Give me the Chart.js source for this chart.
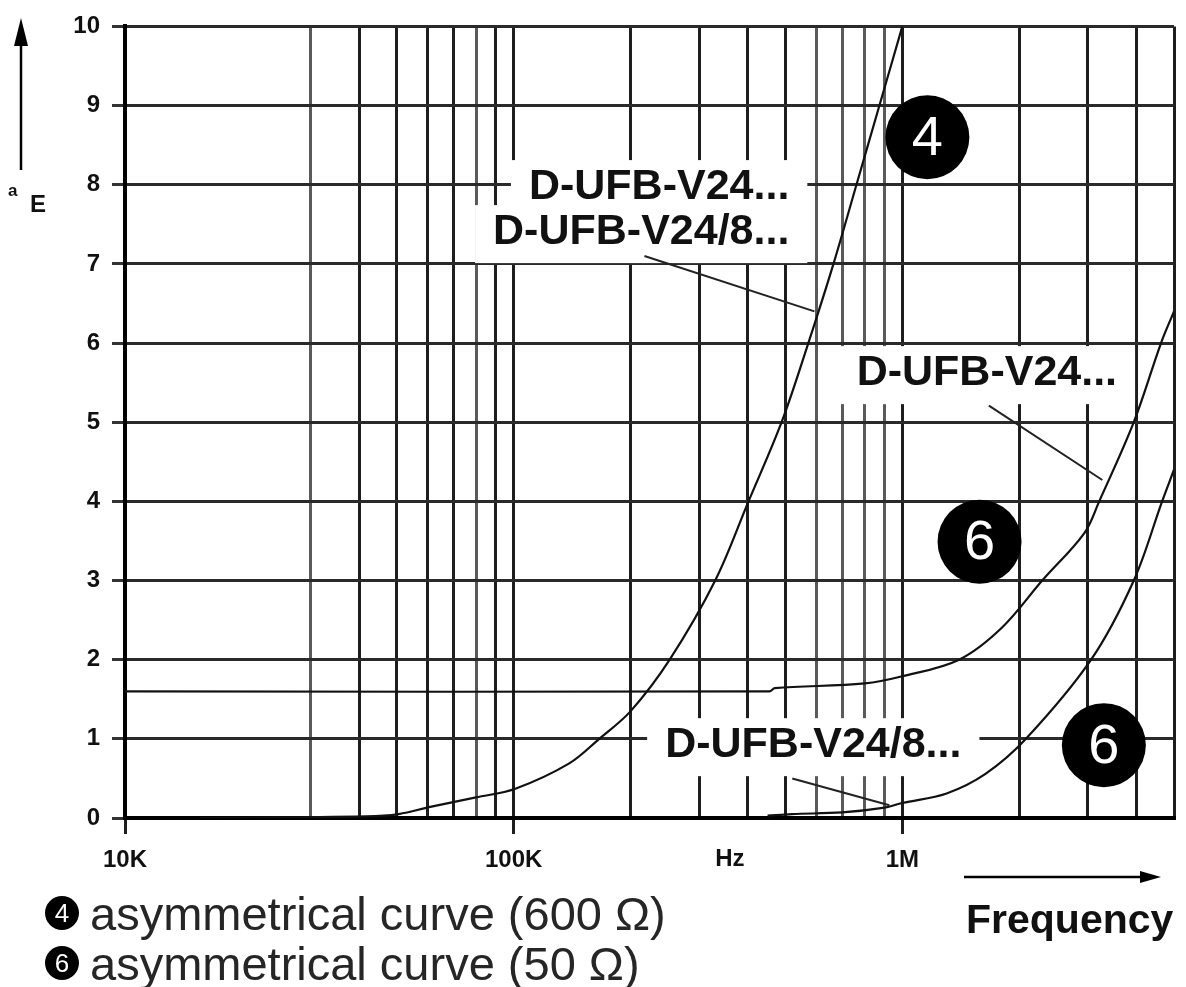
<!DOCTYPE html>
<html>
<head>
<meta charset="utf-8">
<script src="https://cdn.jsdelivr.net/npm/chart.js@4.4.1/dist/chart.umd.min.js"></script>
<style>
    body { margin: 0; background: #fff; }
    #wrap { position: relative; width: 1186px; height: 987px; font-family: "Liberation Sans", Arial, sans-serif; color: #111; }
    #chart { position: absolute; left: 0; top: 0; }
    .txt { position: absolute; white-space: nowrap; }
    .legend-row { position: absolute; left: 45px; height: 50px; display: flex; align-items: center; font-size: 47px; color: #262626; }
    .dot { width: 34px; height: 34px; border-radius: 50%; background: #000; color: #fff; font-size: 26px; display: flex; align-items: center; justify-content: center; margin-right: 11px; }
</style>
</head>
<body>
<div id="wrap">
    <canvas id="chart" width="1186" height="987"></canvas>
    <div class="txt" style="left:8px; top:181px; font-size:17px; font-weight:bold;">a</div>
    <div class="txt" style="left:30px; top:190px; font-size:24px; font-weight:bold;">E</div>
    <div class="txt" style="left:966px; top:897px; font-size:41px; font-weight:bold; line-height:44px;">Frequency</div>
    <div class="legend-row" style="top:888px;"><span class="dot">4</span>asymmetrical curve (600 Ω)</div>
    <div class="legend-row" style="top:938px;"><span class="dot">6</span>asymmetrical curve (50 Ω)</div>
</div>
<script>
//////////////////////////////////////
//              Data                //
//////////////////////////////////////

// curve 4 : D-UFB-V24... / D-UFB-V24/8... (600 Ohm)
const curve4Freq  = [15600, 41700, 50600, 61000, 80000, 101000, 139000, 166000, 200000, 252000, 330000, 402000, 489000, 573000, 665000, 762000, 873000, 1000000];
const curve4Value = [0, 0.02, 0.05, 0.14, 0.26, 0.37, 0.69, 1.0, 1.35, 2.0, 3.0, 4.0, 5.0, 6.0, 7.0, 8.0, 9.0, 10];

// curve 6 : D-UFB-V24... (50 Ohm)
const curve6aFreq  = [10000, 455000, 470000, 800000, 1000000, 1400000, 1800000, 2290000, 2940000, 3210000, 3940000, 4630000, 5000000];
const curve6aValue = [1.6, 1.6, 1.64, 1.7, 1.79, 2.0, 2.4, 3.0, 3.6, 4.0, 5.0, 6.0, 6.4];

// curve 6 : D-UFB-V24/8... (50 Ohm)
const curve6bFreq  = [450000, 520000, 700000, 900000, 1000000, 1300000, 1640000, 2080000, 3060000, 3940000, 4660000, 5000000];
const curve6bValue = [0.03, 0.05, 0.07, 0.13, 0.19, 0.31, 0.56, 1.0, 2.0, 3.0, 4.0, 4.4];

// x grid (no 20K line in the original)
const xGridValues = [10000, 30000, 40000, 50000, 60000, 70000, 80000, 90000,
                     100000, 200000, 300000, 400000, 500000, 600000, 700000, 800000, 900000,
                     1000000, 2000000, 3000000, 4000000, 5000000];
const xLabelValues = [10000, 100000, 1000000];
const xLabelTexts  = ['10K', '100K', '1M'];
const greyGridValues = [30000, 80000, 600000, 700000, 800000, 900000];

const hzFreq = 360000;

//////////////////////////////////////
//           Annotations            //
//////////////////////////////////////

const noteTexts = [
    { lines: ['D-UFB-V24...', 'D-UFB-V24/8...'], freq: 512000, value: 7.97, align: 'right' },
    { lines: ['D-UFB-V24...'], freq: 1650000, value: 5.62, align: 'center' },
    { lines: ['D-UFB-V24/8...'], freq: 590000, value: 0.92, align: 'center' }
];
const leaders = [
    [[217000, 7.1], [594000, 6.4]],
    [[1670000, 5.21], [3270000, 4.27]],
    [[521000, 0.5], [926000, 0.16]]
];
const badges = [
    { text: '4', freq: 1160000, value: 8.6 },
    { text: '6', freq: 1580000, value: 3.49 },
    { text: '6', freq: 3300000, value: 0.92 }
];

const FONT = '"Liberation Sans", Arial, sans-serif';

function toPoints(xs, ys) {
    return xs.map((f, i) => ({ x: f, y: ys[i] }));
}

const notesPlugin = {
    id: 'notes',
    beforeDatasetsDraw(chart) {
        const { ctx, scales: { x, y } } = chart;
        ctx.save();
        ctx.font = 'bold 43px ' + FONT;
        ctx.textBaseline = 'middle';
        noteTexts.forEach(n => {
            const px = x.getPixelForValue(n.freq);
            const py = y.getPixelForValue(n.value);
            // white halo behind the text
            n.lines.forEach((line, i) => {
                const w = ctx.measureText(line).width;
                const ly = py + i * 45;
                let left = px;
                if (n.align === 'right') left = px - w;
                if (n.align === 'center') left = px - w / 2;
                ctx.fillStyle = '#fff';
                ctx.fillRect(left - 18, ly - 27, w + 36, 58);
            });
            n.lines.forEach((line, i) => {
                const ly = py + i * 45;
                ctx.fillStyle = '#111';
                ctx.textAlign = n.align;
                ctx.fillText(line, px, ly);
            });
        });
        ctx.restore();
    },
    afterDatasetsDraw(chart) {
        const { ctx, scales: { x, y } } = chart;
        ctx.save();
        ctx.strokeStyle = '#222';
        ctx.lineWidth = 2;
        leaders.forEach(l => {
            ctx.beginPath();
            ctx.moveTo(x.getPixelForValue(l[0][0]), y.getPixelForValue(l[0][1]));
            ctx.lineTo(x.getPixelForValue(l[1][0]), y.getPixelForValue(l[1][1]));
            ctx.stroke();
        });
        badges.forEach(b => {
            const px = x.getPixelForValue(b.freq);
            const py = y.getPixelForValue(b.value);
            ctx.fillStyle = '#000';
            ctx.beginPath();
            ctx.arc(px, py, 42, 0, Math.PI * 2);
            ctx.fill();
            ctx.fillStyle = '#fff';
            ctx.font = '56px ' + FONT;
            ctx.textAlign = 'center';
            ctx.textBaseline = 'middle';
            ctx.fillText(b.text, px, py + 2);
        });
        ctx.restore();
    },
    afterDraw(chart) {
        const { ctx, chartArea, scales: { x } } = chart;
        ctx.save();
        // Hz label
        ctx.fillStyle = '#111';
        ctx.font = 'bold 24px ' + FONT;
        ctx.textAlign = 'center';
        ctx.textBaseline = 'middle';
        ctx.fillText('Hz', x.getPixelForValue(hzFreq), chartArea.bottom + 41);

        // frequency arrow
        ctx.strokeStyle = '#000';
        ctx.fillStyle = '#000';
        ctx.lineWidth = 2.5;
        const ay = chartArea.bottom + 59;
        ctx.beginPath();
        ctx.moveTo(chartArea.right - 210, ay);
        ctx.lineTo(chartArea.right - 25, ay);
        ctx.stroke();
        ctx.beginPath();
        ctx.moveTo(chartArea.right - 13, ay);
        ctx.lineTo(chartArea.right - 34, ay - 6);
        ctx.lineTo(chartArea.right - 34, ay + 6);
        ctx.closePath();
        ctx.fill();

        // value arrow
        const ax = 21;
        ctx.beginPath();
        ctx.moveTo(ax, 170);
        ctx.lineTo(ax, 40);
        ctx.stroke();
        ctx.beginPath();
        ctx.moveTo(ax, 18);
        ctx.lineTo(ax - 7, 46);
        ctx.lineTo(ax + 7, 46);
        ctx.closePath();
        ctx.fill();
        ctx.restore();
    }
};

//////////////////////////////////////
//             Chart                //
//////////////////////////////////////

function lineSet(xs, ys) {
    return {
        data: toPoints(xs, ys),
        borderColor: '#111',
        borderWidth: 2.2,
        pointRadius: 0,
        fill: false,
        tension: 0.35
    };
}

const chart = new Chart(document.getElementById('chart').getContext('2d'), {
    type: 'line',
    data: {
        datasets: [
            lineSet(curve4Freq, curve4Value),
            lineSet(curve6aFreq, curve6aValue),
            lineSet(curve6bFreq, curve6bValue)
        ]
    },
    options: {
        responsive: false,
        animation: false,
        layout: { padding: { top: 21, right: 11, left: 0, bottom: 0 } },
        plugins: { legend: { display: false }, tooltip: { enabled: false } },
        scales: {
            x: {
                type: 'logarithmic',
                min: 10000,
                max: 5000000,
                afterBuildTicks: scale => { scale.ticks = xGridValues.map(v => ({ value: v })); },
                afterFit: scale => { scale.height = 169; },
                ticks: {
                    autoSkip: false,
                    maxRotation: 0,
                    padding: 12,
                    color: '#111',
                    font: { family: FONT, size: 24, weight: 'bold' },
                    callback: v => {
                        const i = xLabelValues.indexOf(v);
                        return i >= 0 ? xLabelTexts[i] : '';
                    }
                },
                grid: {
                    lineWidth: 3,
                    tickLength: 16,
                    tickWidth: 3,
                    color: c => greyGridValues.includes(c.tick.value) ? '#5a5a5a' : '#1e1e1e',
                    tickColor: c => xLabelValues.includes(c.tick.value) ? '#1e1e1e' : 'rgba(0,0,0,0)'
                },
                border: { display: true, color: '#000', width: 4 }
            },
            y: {
                min: 0,
                max: 10,
                afterFit: scale => { scale.width = 125; },
                ticks: {
                    stepSize: 1,
                    padding: 12,
                    color: '#111',
                    font: { family: FONT, size: 24, weight: 'bold' }
                },
                grid: { lineWidth: 3, tickLength: 13, color: '#2a2a2a', tickColor: '#333' },
                border: { display: true, color: '#000', width: 4 }
            }
        }
    },
    plugins: [notesPlugin]
});
</script>
</body>
</html>
